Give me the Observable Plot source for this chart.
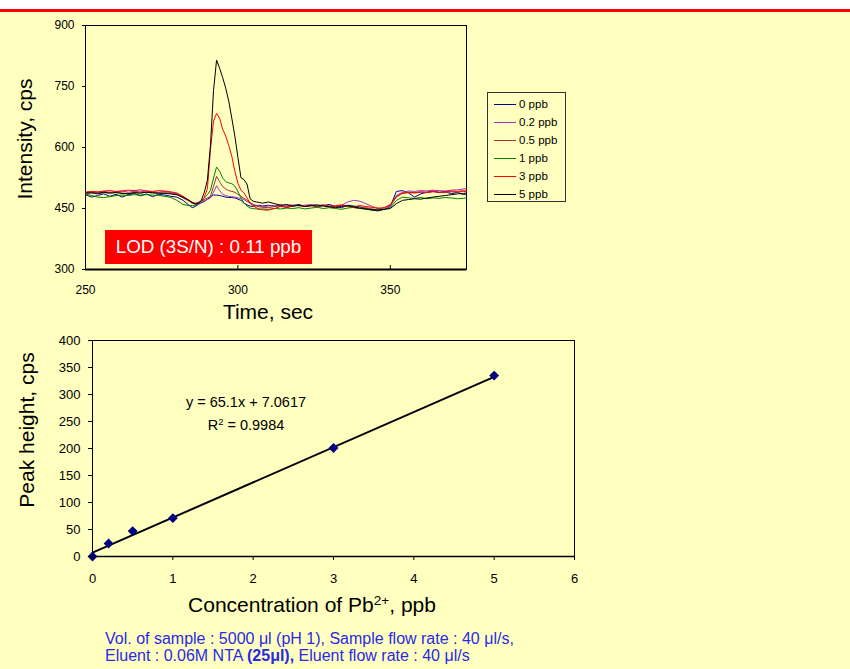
<!DOCTYPE html>
<html><head><meta charset="utf-8">
<script src="https://cdn.jsdelivr.net/npm/d3@7"></script>
<script src="https://cdn.jsdelivr.net/npm/@observablehq/plot@0.6"></script>
<style>
html,body{margin:0;padding:0;}
body{width:850px;height:669px;overflow:hidden;font-family:"Liberation Sans",Arial,sans-serif;}
#page{position:relative;width:850px;height:669px;background:#ffffc0;overflow:hidden;}
#topbar{position:absolute;left:0;top:0;width:850px;height:9px;background:#fff;border-bottom:3px solid #ff0000;}
.abs{position:absolute;white-space:nowrap;}
.rot{transform:translate(-50%,-50%) rotate(-90deg);}
.ctr{transform:translate(-50%,-50%);}
#legend{position:absolute;left:487px;top:92px;width:79px;height:110px;border:1px solid #333;background:#ffffc0;box-sizing:border-box;padding-top:2px;}
.lrow{position:relative;height:18px;font-size:11.5px;line-height:18px;}
.lline{position:absolute;left:6px;top:9px;width:22px;height:1px;}
.ltxt{position:absolute;left:31px;top:0;}
#lod{position:absolute;left:105px;top:230px;width:207px;height:34px;background:#ff0000;color:#fff;font-size:18.8px;line-height:34px;text-align:center;}
sup{font-size:0.65em;vertical-align:0.5em;line-height:0;}
#caption{position:absolute;left:105px;top:630px;font-size:16px;line-height:17px;color:#2a2ae6;}
svg{overflow:visible;}
</style>
</head><body>
<div id="page">
  <div id="topbar"></div>
  <div id="chartTop" class="abs" style="left:0;top:0"></div>
  <div id="chartBottom" class="abs" style="left:0;top:320px"></div>
  <div class="abs rot" style="left:25px;top:139px;font-size:21px;">Intensity, cps</div>
  <div class="abs ctr" style="left:268px;top:312px;font-size:21px;">Time, sec</div>
  <div id="legend"></div>
  <div id="lod">LOD (3S/N) : 0.11 ppb</div>
  <div class="abs rot" style="left:27px;top:430px;font-size:21px;">Peak height, cps</div>
  <div class="abs ctr" style="left:312px;top:605px;font-size:21px;">Concentration of Pb<sup>2+</sup>, ppb</div>
  <div class="abs ctr" style="left:246px;top:402px;font-size:14.5px;">y = 65.1x + 7.0617</div>
  <div class="abs ctr" style="left:246px;top:425px;font-size:14.5px;">R<sup>2</sup> = 0.9984</div>
  <div id="caption">Vol. of sample : 5000 μl (pH 1), Sample flow rate : 40 μl/s,<br>Eluent : 0.06M NTA <b>(25μl),</b> Eluent flow rate : 40 μl/s</div>
</div>
<script>
// ---- Top chart: time traces ----
const time = [250,252,254,256,258,260,262,264,266,268,270,272,274,276,278,280,282,284,
  285,286,287,288,289,290,291,292,293,294,295,296,297,298,299,300,301,302,303,304,305,306,307,308,
  310,312,314,316,318,320,322,324,326,328,330,332,334,336,338,340,342,344,346,348,350,352,354,356,358,360,362,364,366,368,370,372,374,375];

const seriesNames = ["0 ppb","0.2 ppb","0.5 ppb","1 ppb","3 ppb","5 ppb"];
const seriesColors = ["#000099","#9933cc","#993333","#008000","#ff0000","#000000"];

const int0 = [484,478,482,486,480,485,478,484,487,481,486,479,485,483,480,478,470,458,
  452,455,460,464,467,473,478,483,483,482,480,478,477,477,476,473,470,463,459,456,455,457,458,456,
  458,455,459,452,457,460,455,458,454,457,460,455,452,458,456,454,450,446,444,448,455,492,494,488,478,486,490,493,489,492,486,490,484,486];
const int02 = [490,491,489,492,490,491,493,490,492,491,493,491,490,492,489,486,478,470,
  466,463,465,468,470,472,476,490,506,494,485,482,480,479,478,476,475,472,467,463,460,458,456,455,
  456,458,455,457,459,456,458,460,457,459,456,455,458,466,470,468,462,455,450,448,455,482,490,493,492,494,493,495,494,493,495,496,498,499];
const int05 = [487,488,486,489,488,490,488,487,489,488,490,488,487,489,487,484,476,468,
  463,461,463,467,472,476,480,505,529,516,504,498,494,492,490,485,480,475,470,465,459,456,454,453,
  452,455,457,454,456,458,455,457,455,458,456,454,457,455,452,450,452,449,447,452,460,480,487,489,488,490,489,491,490,489,491,490,492,491];
const int1 = [485,482,478,477,479,482,483,482,484,483,484,483,482,480,477,470,460,457,
  457,458,462,468,476,484,495,525,552,542,525,516,513,511,505,492,476,464,456,451,450,449,448,449,
  448,450,449,451,450,452,449,451,453,450,452,450,448,451,453,450,448,446,449,447,452,470,478,476,475,477,474,476,475,477,476,474,475,476];
const int3 = [490,492,491,493,494,492,493,495,494,496,493,492,494,493,491,488,480,470,
  465,462,464,468,478,499,595,665,684,672,645,628,605,578,542,512,495,488,476,463,457,452,449,447,
  446,450,455,453,456,458,455,457,456,458,455,457,459,456,454,457,455,453,451,452,458,478,488,490,489,491,490,492,490,491,493,492,494,493];
const int5 = [488,489,487,490,488,489,487,486,489,488,490,489,488,487,486,484,478,470,
  464,461,463,470,490,520,605,740,815,795,772,746,714,672,628,576,526,521,510,474,468,466,465,463,
  466,462,458,460,456,458,455,457,459,456,454,452,455,457,454,451,449,447,446,448,450,462,470,472,474,473,476,478,480,482,484,486,487,488];

const timeTicks = [250,300,350];
const intensityTicks = [300,450,600,750,900];

// ---- Bottom chart: calibration ----
const conc = [0,0.2,0.5,1,3,5];
const peakHeight = [0,24,47,71,201,335];
const fitSlope = 65.1, fitIntercept = 7.0617;
const concTicks = [0,1,2,3,4,5,6];
const heightTicks = [0,50,100,150,200,250,300,350,400];

const seriesValues = [int0,int02,int05,int1,int3,int5];
const traces = seriesValues.flatMap((vals,i)=>vals.map((v,j)=>({t:time[j], v, s:seriesNames[i]})));

const fontStack = '"Liberation Sans", Arial, sans-serif';
const intFmt = d3.format("d");

const plotTop = Plot.plot({
  width: 600, height: 330,
  marginLeft: 85, marginRight: 134, marginTop: 25, marginBottom: 61,
  style: {background:"transparent", fontFamily: fontStack, fontSize:"12px", color:"black"},
  x: {domain:[250,375]},
  y: {domain:[300,900]},
  color: {domain: seriesNames, range: seriesColors},
  marks: [
    Plot.frame({stroke:"black", strokeWidth:1}),
    Plot.line(traces, {x:"t", y:"v", z:"s", stroke:"s", strokeWidth:1}),
    Plot.ruleY([300], {stroke:"black", strokeWidth:2}),
    Plot.ruleX(timeTicks, {stroke:"black", insetTop:240}),
    Plot.axisX({ticks: timeTicks, tickFormat: intFmt, tickSize:0, tickPadding:16, label:null}),
    Plot.axisY({ticks: intensityTicks, tickFormat: intFmt, tickSize:3, tickPadding:8, label:null})
  ]
});
document.getElementById("chartTop").appendChild(plotTop);

const calib = conc.map((c,i)=>({c, h:peakHeight[i]}));
const plotBottom = Plot.plot({
  width: 600, height: 300,
  marginLeft: 92, marginRight: 26, marginTop: 20, marginBottom: 64,
  style: {background:"transparent", fontFamily: fontStack, fontSize:"13px", color:"black"},
  x: {domain:[0,6]},
  y: {domain:[0,400]},
  marks: [
    Plot.frame({stroke:"black", strokeWidth:1}),
    Plot.ruleY([0], {stroke:"black", strokeWidth:1.5}),
    Plot.line(d3.extent(conc), {x: d=>d, y: d=>fitSlope*d+fitIntercept, stroke:"black", strokeWidth:2}),
    Plot.dot(calib, {x:"c", y:"h", symbol:"diamond2", r:3.5, fill:"#000080", stroke:"#000080"}),
    Plot.axisX({ticks: concTicks, tickFormat: intFmt, tickSize:4, tickPadding:13, label:null}),
    Plot.axisY({ticks: heightTicks, tickFormat: intFmt, tickSize:4, tickPadding:8, label:null})
  ]
});
document.getElementById("chartBottom").appendChild(plotBottom);

// Legend
const leg = document.getElementById("legend");
seriesNames.forEach((n,i)=>{
  const row = document.createElement("div"); row.className="lrow";
  const ln = document.createElement("div"); ln.className="lline"; ln.style.backgroundColor = seriesColors[i];
  const tx = document.createElement("div"); tx.className="ltxt"; tx.textContent = n;
  row.appendChild(ln); row.appendChild(tx); leg.appendChild(row);
});
</script>
</body></html>
